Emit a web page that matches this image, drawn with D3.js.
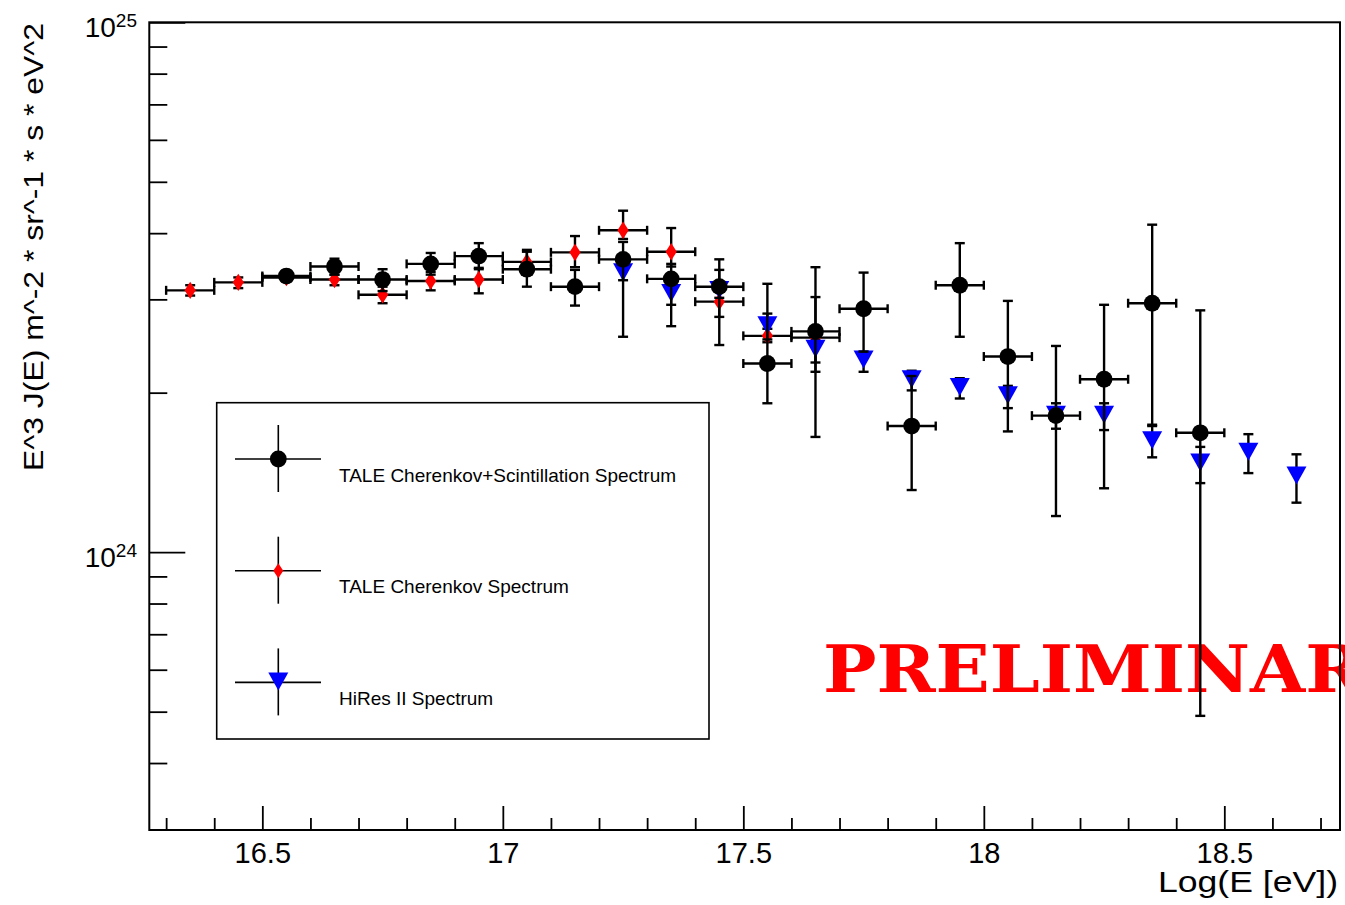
<!DOCTYPE html>
<html>
<head>
<meta charset="utf-8">
<script src="https://cdn.jsdelivr.net/npm/d3@7"></script>
<style>
  html, body { margin: 0; padding: 0; background: #fff; }
  svg { display: block; }
  text { font-family: "Liberation Sans", Arial, Helvetica, sans-serif; fill: #000; }
</style>
</head>
<body>
<svg id="chart" width="1345" height="905"></svg>
<script>
// ---- data: E^3 J(E) versus log10(E/eV) ----
const binHalfWidth = 0.05;

// TALE Cherenkov+Scintillation spectrum
const hybridLogE = [16.55, 16.65, 16.75, 16.85, 16.95, 17.05, 17.15, 17.25, 17.35, 17.45,
                    17.55, 17.65, 17.75, 17.85, 17.95, 18.05, 18.15, 18.25, 18.35, 18.45];
const hybridFlux = [3.32e24, 3.46e24, 3.27e24, 3.50e24, 3.62e24, 3.42e24, 3.17e24, 3.57e24, 3.28e24, 3.17e24,
                    2.27e24, 2.61e24, 2.88e24, 1.73e24, 3.19e24, 2.34e24, 1.81e24, 2.12e24, 2.95e24, 1.68e24];
const hybridHigh = [3.40e24, 3.58e24, 3.42e24, 3.67e24, 3.83e24, 3.72e24, 3.41e24, 3.85e24, 3.50e24, 3.57e24,
                    3.21e24, 3.45e24, 3.37e24, 2.15e24, 3.83e24, 2.98e24, 2.45e24, 2.93e24, 4.15e24, 2.86e24];
const hybridLow  = [3.25e24, 3.34e24, 3.11e24, 3.34e24, 3.42e24, 3.17e24, 2.92e24, 2.55e24, 2.67e24, 2.46e24,
                    1.91e24, 1.65e24, 2.39e24, 1.31e24, 2.55e24, 1.69e24, 1.17e24, 1.32e24, 1.74e24, 4.91e23];

// TALE Cherenkov spectrum
const ckovLogE = [16.35, 16.45, 16.55, 16.65, 16.75, 16.85, 16.95, 17.05, 17.15, 17.25, 17.35, 17.45, 17.55, 17.65];
const ckovFlux = [3.12e24, 3.23e24, 3.30e24, 3.27e24, 3.06e24, 3.25e24, 3.27e24, 3.53e24, 3.68e24, 4.05e24, 3.69e24, 2.97e24, 2.56e24, 2.54e24];
const ckovHigh = [3.19e24, 3.30e24, 3.38e24, 3.34e24, 3.17e24, 3.38e24, 3.44e24, 3.69e24, 3.95e24, 4.41e24, 4.09e24, 3.41e24, 2.64e24, 3.03e24];
const ckovLow  = [3.05e24, 3.15e24, 3.24e24, 3.19e24, 2.95e24, 3.12e24, 3.08e24, 3.38e24, 3.45e24, 3.90e24, 3.46e24, 2.78e24, 2.49e24, 2.19e24];

// HiRes II spectrum
const hiresLogE = [17.25, 17.35, 17.45, 17.55, 17.65, 17.75, 17.85, 17.95, 18.05, 18.15, 18.25, 18.35, 18.45, 18.55, 18.65];
const hiresFlux = [3.36e24, 3.07e24, 3.11e24, 2.67e24, 2.41e24, 2.30e24, 2.11e24, 2.04e24, 1.97e24, 1.81e24, 1.81e24, 1.62e24, 1.47e24, 1.54e24, 1.39e24];
const hiresHigh = [3.46e24, 3.17e24, 3.20e24, 2.82e24, 2.51e24, 2.39e24, 2.20e24, 2.13e24, 2.06e24, 1.91e24, 1.91e24, 1.73e24, 1.58e24, 1.67e24, 1.53e24];
const hiresLow  = [3.26e24, 2.93e24, 3.02e24, 2.52e24, 2.28e24, 2.19e24, 2.02e24, 1.95e24, 1.87e24, 1.71e24, 1.70e24, 1.51e24, 1.35e24, 1.41e24, 1.24e24];

// axes
const xDomain = [16.265, 18.7405];
const yDomain = [2.99e23, 1e25];
const xMajorTicks = [16.5, 17, 17.5, 18, 18.5];
const xTickLabels = ["16.5", "17", "17.5", "18", "18.5"];
const xMinorTicks = [16.3, 16.4, 16.6, 16.7, 16.8, 16.9, 17.1, 17.2, 17.3, 17.4, 17.6, 17.7,
                     17.8, 17.9, 18.1, 18.2, 18.3, 18.4, 18.6, 18.7];
const yMajorTicks = [1e24, 1e25];
const yTickExponents = ["24", "25"];
const yMinorTicks = [4e23, 5e23, 6e23, 7e23, 8e23, 9e23, 2e24, 3e24, 4e24, 5e24, 6e24, 7e24, 8e24, 9e24];

const legendLabels = ["TALE Cherenkov+Scintillation Spectrum", "TALE Cherenkov Spectrum", "HiRes II Spectrum"];

// ---- layout ----
const frame = { left: 149.3, right: 1340, top: 22.3, bottom: 830 };
const svg = d3.select("#chart");
svg.append("rect").attr("width", 1345).attr("height", 905).attr("fill", "#fff");

const x = d3.scaleLinear().domain(xDomain).range([frame.left, frame.right]);
const y = d3.scaleLog().domain(yDomain).range([frame.bottom, frame.top]);

// watermark sits underneath everything else
svg.append("text")
  .attr("x", 823).attr("y", 692)
  .attr("textLength", 590).attr("lengthAdjust", "spacingAndGlyphs")
  .style("font-family", "'DejaVu Serif', 'Liberation Serif', serif")
  .style("font-weight", "bold")
  .style("font-size", "66px")
  .style("fill", "#ff0000")
  .text("PRELIMINARY");

// ---- axes (ticks point into the frame) ----
function axisGroup(transform, axis) {
  const g = svg.append("g").attr("transform", transform).call(axis);
  g.selectAll(".domain").remove();
  g.selectAll("line").attr("stroke", "#000").attr("stroke-width", 1.8);
  return g;
}
axisGroup(`translate(0,${frame.bottom})`,
  d3.axisBottom(x).tickValues(xMinorTicks).tickSize(-12).tickFormat(""));
const gxMajor = axisGroup(`translate(0,${frame.bottom})`,
  d3.axisBottom(x).tickValues(xMajorTicks).tickSize(-24).tickPadding(12)
    .tickFormat((d, i) => xTickLabels[i]));
gxMajor.selectAll("text").style("font-size", "29px").attr("fill", "#000");

axisGroup(`translate(${frame.left},0)`,
  d3.axisLeft(y).tickValues(yMinorTicks).tickSize(-18).tickFormat(""));
axisGroup(`translate(${frame.left},0)`,
  d3.axisLeft(y).tickValues(yMajorTicks).tickSize(-36).tickFormat(""));

// 10^n labels
yMajorTicks.forEach((v, i) => {
  const t = svg.append("text")
    .attr("x", 137).attr("y", y(v) + 15)
    .attr("text-anchor", "end")
    .style("font-size", "28px");
  t.append("tspan").text("10");
  t.append("tspan").attr("dy", -10.6).style("font-size", "19px").text(yTickExponents[i]);
});

// frame
svg.append("rect")
  .attr("x", frame.left).attr("y", frame.top)
  .attr("width", frame.right - frame.left).attr("height", frame.bottom - frame.top)
  .attr("fill", "none").attr("stroke", "#000").attr("stroke-width", 2);

// axis titles
svg.append("text")
  .attr("x", 1338).attr("y", 892)
  .attr("text-anchor", "end")
  .attr("textLength", 180).attr("lengthAdjust", "spacingAndGlyphs")
  .style("font-size", "29px")
  .text("Log(E [eV])");

svg.append("text")
  .attr("transform", "translate(43,23) rotate(-90)")
  .attr("text-anchor", "end")
  .attr("textLength", 448).attr("lengthAdjust", "spacingAndGlyphs")
  .style("font-size", "28px")
  .text("E^3 J(E) m^-2 * sr^-1 * s * eV^2");

// ---- marker shapes ----
const circlePath = r => `M${-r},0A${r},${r} 0 1,0 ${r},0A${r},${r} 0 1,0 ${-r},0Z`;
const markers = {
  circle: { d: circlePath(8.4), fill: "#000" },
  diamond: { d: "M0,-8.7L5.6,0L0,8.7L-5.6,0Z", fill: "#ff0000" },
  triangle: { d: "M-10,-10L10,-10L0,8Z", fill: "#0000ff" }
};

const cap = 5;      // half length of error bar end caps
function drawSeries(logE, flux, hi, lo, withXErr, marker) {
  const g = svg.append("g");
  const pts = logE.map((e, i) => ({ e, v: flux[i], hi: hi[i], lo: lo[i] }));
  const eb = g.append("g").attr("stroke", "#000").attr("stroke-width", 2.4).attr("fill", "none");
  pts.forEach(p => {
    const cx = x(p.e), cy = y(p.v), yh = y(p.hi), yl = y(p.lo);
    eb.append("line").attr("x1", cx).attr("x2", cx).attr("y1", yh).attr("y2", yl);
    eb.append("line").attr("x1", cx - cap).attr("x2", cx + cap).attr("y1", yh).attr("y2", yh);
    eb.append("line").attr("x1", cx - cap).attr("x2", cx + cap).attr("y1", yl).attr("y2", yl);
    if (withXErr) {
      const xa = x(p.e - binHalfWidth), xb = x(p.e + binHalfWidth);
      eb.append("line").attr("x1", xa).attr("x2", xb).attr("y1", cy).attr("y2", cy);
      eb.append("line").attr("x1", xa).attr("x2", xa).attr("y1", cy - 4.5).attr("y2", cy + 4.5);
      eb.append("line").attr("x1", xb).attr("x2", xb).attr("y1", cy - 4.5).attr("y2", cy + 4.5);
    }
  });
  g.selectAll("path.mk").data(pts).join("path")
    .attr("class", "mk")
    .attr("d", marker.d)
    .attr("fill", marker.fill)
    .attr("transform", p => `translate(${x(p.e)},${y(p.v)})`);
}

drawSeries(ckovLogE, ckovFlux, ckovHigh, ckovLow, true, markers.diamond);
drawSeries(hiresLogE, hiresFlux, hiresHigh, hiresLow, false, markers.triangle);
drawSeries(hybridLogE, hybridFlux, hybridHigh, hybridLow, true, markers.circle);

// ---- legend ----
const legend = svg.append("g");
legend.append("rect")
  .attr("x", 216.7).attr("y", 402.7).attr("width", 492.3).attr("height", 336.3)
  .attr("fill", "#fff").attr("stroke", "#000").attr("stroke-width", 1.6);
const legendMarkers = [
  markers.circle,
  { d: "M0,-7.5L5,0L0,7.5L-5,0Z", fill: "#ff0000" },
  markers.triangle
];
legendLabels.forEach((label, i) => {
  const cy = 459 + i * 111.7, cx = 278.3;
  legend.append("line").attr("x1", 235).attr("x2", 321).attr("y1", cy).attr("y2", cy)
    .attr("stroke", "#000").attr("stroke-width", 1.6);
  legend.append("line").attr("x1", cx).attr("x2", cx).attr("y1", cy - 34).attr("y2", cy + 33)
    .attr("stroke", "#000").attr("stroke-width", 1.6);
  legend.append("path").attr("d", legendMarkers[i].d).attr("fill", legendMarkers[i].fill)
    .attr("transform", `translate(${cx},${cy})`);
  legend.append("text").attr("x", 339).attr("y", cy + 22.7)
    .style("font-size", "19px").text(label);
});
</script>
</body>
</html>
